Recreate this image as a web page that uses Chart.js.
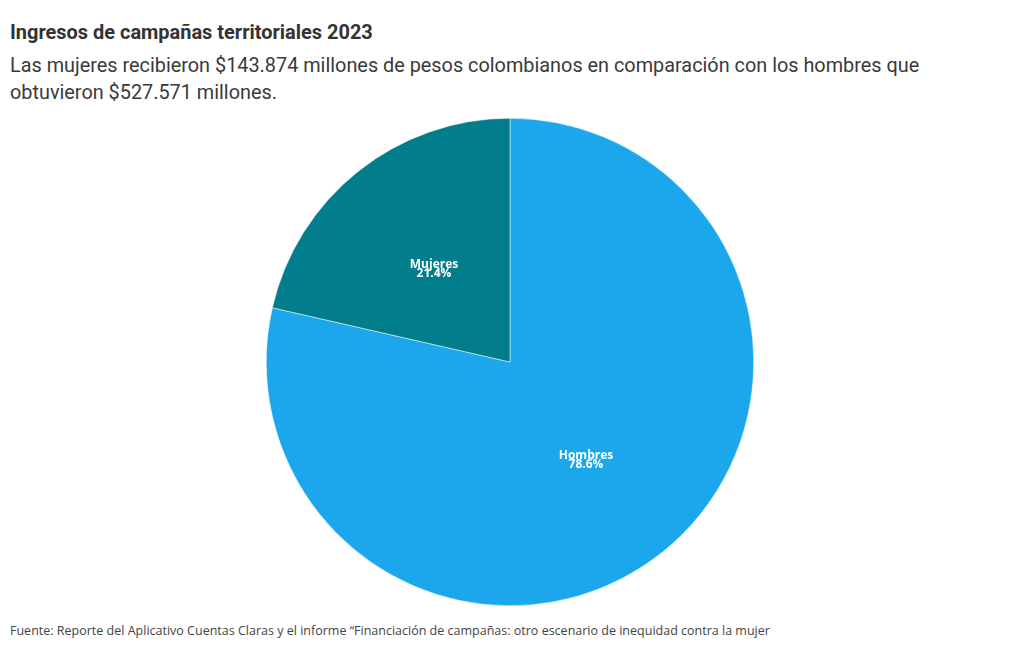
<!DOCTYPE html>
<html>
<head>
<meta charset="utf-8">
<script src="https://cdn.jsdelivr.net/npm/chart.js@4/dist/chart.umd.min.js"></script>
<style>
  html, body { margin: 0; padding: 0; background: #fff; width: 1020px; height: 650px; overflow: hidden; }
  .txt { position: absolute; left: 10px; color: #333; white-space: nowrap; transform-origin: left top; }
  #title { top: 20px; font: bold 21px Roboto, sans-serif; transform: scaleX(0.95); }
  #sub1 { top: 53px; font: 21px Roboto, sans-serif; color: #3a3a3a; transform: scaleX(0.945); }
  #sub2 { top: 80px; font: 21px Roboto, sans-serif; color: #3a3a3a; transform: scaleX(0.945); }
  #foot { top: 621px; font: 13px "Open Sans", sans-serif; color: #444; transform: scaleX(0.962); }
  #wrap { position: absolute; left: 0; top: 118px; width: 1020px; height: 488px; }
</style>
</head>
<body>
<div class="txt" id="title">Ingresos de campañas territoriales 2023</div>
<div class="txt" id="sub1">Las mujeres recibieron $143.874 millones de pesos colombianos en comparación con los hombres que</div>
<div class="txt" id="sub2">obtuvieron $527.571 millones.</div>
<div id="wrap"><canvas id="pie"></canvas></div>
<div class="txt" id="foot">Fuente: Reporte del Aplicativo Cuentas Claras y el informe “Financiación de campañas: otro escenario de inequidad contra la mujer</div>
<script>
'use strict';

const labels = ['Hombres', 'Mujeres'];
const values = [527571, 143874];
const colors = ['#1ca7ec', '#017d8c'];

const sliceLabels = {
  id: 'sliceLabels',
  afterDatasetsDraw(chart) {
    const { ctx } = chart;
    const meta = chart.getDatasetMeta(0);
    const data = chart.data.datasets[0].data;
    const total = data.reduce((a, b) => a + b, 0);
    ctx.save();
    ctx.fillStyle = '#fff';
    ctx.textAlign = 'center';
    ctx.textBaseline = 'middle';
    ctx.font = 'bold 12px "Open Sans", sans-serif';
    meta.data.forEach((arc, i) => {
      const p = arc.tooltipPosition();
      ctx.fillText(chart.data.labels[i], p.x, p.y - 2);
      ctx.fillText((data[i] / total * 100).toFixed(1) + '%', p.x, p.y + 7);
    });
    ctx.restore();
  }
};

new Chart(document.getElementById('pie').getContext('2d'), {
  type: 'pie',
  data: {
    labels,
    datasets: [{ data: values, backgroundColor: colors, borderColor: '#fff', borderWidth: 0.5 }]
  },
  options: {
    responsive: true,
    maintainAspectRatio: false,
    animation: false,
    layout: { padding: 0 },
    plugins: { legend: { display: false }, tooltip: { enabled: false } }
  },
  plugins: [sliceLabels]
});
</script>
</body>
</html>
